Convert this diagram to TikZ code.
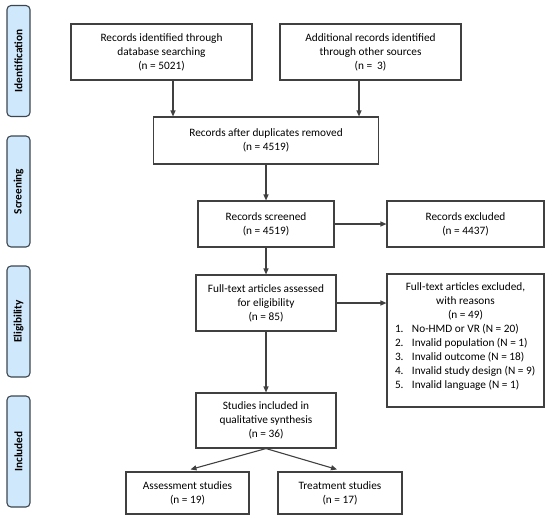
\documentclass[tikz,border=0pt]{standalone}
\usepackage{fontspec}
\setmainfont{Carlito}
\usetikzlibrary{arrows.meta,calc}
\definecolor{linec}{HTML}{404040}
\definecolor{sidefill}{HTML}{CFE8FB}
\definecolor{sidedraw}{HTML}{3C4650}
\newcommand\litem[2]{\makebox[17pt][l]{#1}#2\par}
\begin{document}
\begin{tikzpicture}[x=1pt,y=-1pt,
  font=\fontsize{11.3}{14}\selectfont,
  box/.style={draw=linec, line width=1.1pt, fill=white, align=center, inner sep=2pt},
  side/.style={draw=sidedraw, line width=1.1pt, fill=sidefill, rounded corners=4pt,
     minimum width=23pt, minimum height=111pt, inner sep=0pt},
  sidelab/.style={rotate=90, font=\fontsize{11.3}{13}\selectfont\bfseries},
  arr/.style={draw=linec, line width=1.1pt, -{Triangle[length=6pt,width=5pt]}}]
\useasboundingbox (0,0) rectangle (550,522);

% side phase boxes
\node[side] (S1) at (18.5,61) {};
\node[sidelab] (S1t) at (S1.center) {Identification};
\node[side] (S2) at (18.5,191.5) {};
\node[sidelab] (S2t) at (S2.center) {Screening};
\node[side] (S3) at (18.5,321.5) {};
\node[sidelab] (S3t) at (S3.center) {Eligibility};
\node[side] (S4) at (18.5,451.5) {};
\node[sidelab] (S4t) at (S4.center) {Included};

% main boxes
\node[box, minimum width=181pt, minimum height=56pt] (B1) at (161.5,52)
  {Records identified through\\database searching\\(n = 5021)};
\node[box, minimum width=181pt, minimum height=56pt] (B2) at (370.5,52)
  {Additional records identified\\through other sources\\(n =\ \ 3)};
\node[box, minimum width=225pt, minimum height=47pt] (B3) at (266,140.5)
  {Records after duplicates removed\\(n = 4519)};
\node[box, minimum width=136pt, minimum height=46pt] (B4) at (266,224)
  {Records screened\\(n = 4519)};
\node[box, minimum width=157pt, minimum height=46pt] (B5) at (465.5,224)
  {Records excluded\\(n = 4437)};
\node[box, minimum width=140pt, minimum height=56pt] (B6) at (266,303)
  {Full-text articles assessed\\for eligibility\\(n = 85)};
\node[box, minimum width=157pt, minimum height=133pt, inner sep=0pt] (B7) at (465.5,340.5)
  {\parbox{157pt}{\centering Full-text articles excluded,\\with reasons\\(n = 49)\par
   \raggedright\leftskip=8pt\parindent=0pt
   \litem{1.}{No-HMD or VR (N = 20)}
   \litem{2.}{Invalid population (N = 1)}
   \litem{3.}{Invalid outcome (N = 18)}
   \litem{4.}{Invalid study design (N = 9)}
   \litem{5.}{Invalid language (N = 1)}
   \vspace{7pt}}};
\node[box, minimum width=140pt, minimum height=55pt] (B8) at (266,420.5)
  {Studies included in\\qualitative synthesis\\(n = 36)};
\node[box, minimum width=123pt, minimum height=42pt] (B9) at (187.5,493)
  {Assessment studies\\(n = 19)};
\node[box, minimum width=124pt, minimum height=42pt] (B10) at (340,493)
  {Treatment studies\\(n = 17)};

% connectors
\draw[arr] ($(B1.south)+(11.5,0)$) coordinate (p1) -- (p1 |- B3.north);
\draw[arr] ($(B2.south)+(-11.5,0)$) coordinate (p2) -- (p2 |- B3.north);
\draw[arr] (B3.south) -- (B4.north);
\draw[arr] (B4.east) -- (B5.west);
\draw[arr] (B4.south) -- (B6.north);
\draw[arr] (B6.east) -- (B6.east -| B7.west);
\draw[arr] (B6.south) -- (B8.north);
\draw[arr] (B8.south) -- ($(B9.north)+(3,-2)$);
\draw[arr] (B8.south) -- ($(B10.north)+(-3,-2)$);
\end{tikzpicture}
\end{document}
